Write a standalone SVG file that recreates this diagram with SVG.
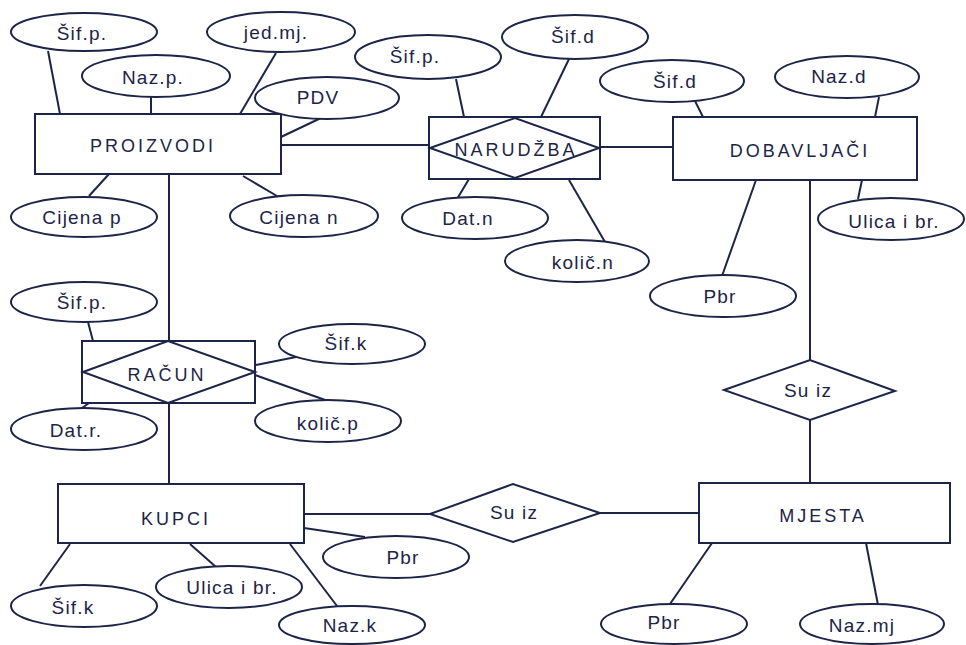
<svg xmlns="http://www.w3.org/2000/svg" width="966" height="645" viewBox="0 0 966 645">
<style>
.s{fill:#fff;stroke:#1c2448;stroke-width:2}
.c{stroke:#1c2448;stroke-width:2;fill:none}
text{font-family:"Liberation Sans","DejaVu Sans",sans-serif;font-size:19px;letter-spacing:1.2px;fill:#1c2448;text-anchor:middle;dominant-baseline:central}
.e{letter-spacing:3px;font-size:18px}
</style>
<rect width="966" height="645" fill="#fff"/>
<g id="connectors">
<line class="c" x1="48" y1="51" x2="60" y2="114"/>
<line class="c" x1="151" y1="97" x2="151" y2="114"/>
<line class="c" x1="276" y1="53" x2="240" y2="114"/>
<line class="c" x1="323" y1="117" x2="281" y2="137"/>
<line class="c" x1="281" y1="145" x2="429" y2="145"/>
<line class="c" x1="109" y1="174" x2="89" y2="196"/>
<line class="c" x1="243" y1="176" x2="277" y2="196"/>
<line class="c" x1="169" y1="174" x2="169" y2="341"/>
<line class="c" x1="456" y1="79" x2="464" y2="117"/>
<line class="c" x1="569" y1="59" x2="541" y2="117"/>
<line class="c" x1="600" y1="147" x2="673" y2="147"/>
<line class="c" x1="695" y1="101" x2="703" y2="117"/>
<line class="c" x1="879" y1="97" x2="875" y2="117"/>
<line class="c" x1="469" y1="179" x2="457" y2="199"/>
<line class="c" x1="569" y1="180" x2="605" y2="242"/>
<line class="c" x1="862" y1="180" x2="858" y2="199"/>
<line class="c" x1="756" y1="180" x2="722" y2="276"/>
<line class="c" x1="810" y1="180" x2="810" y2="360"/>
<line class="c" x1="810" y1="420" x2="810" y2="483"/>
<line class="c" x1="88" y1="322" x2="93" y2="341"/>
<line class="c" x1="256" y1="365" x2="306" y2="355"/>
<line class="c" x1="255" y1="375" x2="328" y2="401"/>
<line class="c" x1="89" y1="403" x2="68" y2="418"/>
<line class="c" x1="169" y1="403" x2="169" y2="484"/>
<line class="c" x1="304" y1="514" x2="430" y2="514"/>
<line class="c" x1="600" y1="513" x2="699" y2="513"/>
<line class="c" x1="304" y1="528" x2="365" y2="537"/>
<line class="c" x1="70" y1="544" x2="40" y2="586"/>
<line class="c" x1="190" y1="544" x2="216" y2="567"/>
<line class="c" x1="290" y1="544" x2="337" y2="606"/>
<line class="c" x1="712" y1="543" x2="670" y2="604"/>
<line class="c" x1="866" y1="543" x2="878" y2="605"/>
</g>
<g id="proizvodi"><rect class="s" x="35" y="114" width="246" height="60"/><text class="e" x="153" y="146">PROIZVODI</text></g>
<g id="narudzba"><rect class="s" x="429" y="117" width="171" height="62"/><polygon class="s" points="430,148 515,118 599,148 515,178"/><text class="e" x="516" y="150">NARUDŽBA</text></g>
<g id="dobavljaci"><rect class="s" x="673" y="117" width="244" height="63"/><text class="e" x="800" y="151">DOBAVLJAČI</text></g>
<g id="racun"><rect class="s" x="82" y="341" width="173" height="62"/><polygon class="s" points="83,372 168,341 255,372 168,403"/><text class="e" x="167" y="375">RAČUN</text></g>
<g id="kupci"><rect class="s" x="58" y="484" width="246" height="59"/><text class="e" x="176" y="519">KUPCI</text></g>
<g id="mjesta"><rect class="s" x="699" y="483" width="251" height="60"/><text class="e" x="823" y="516">MJESTA</text></g>
<g id="suiz1"><polygon class="s" points="724,390 810,360 895,391 810,420"/><text x="808" y="390">Su iz</text></g>
<g id="suiz2"><polygon class="s" points="430,514 513,484 600,513 513,542"/><text x="514" y="512">Su iz</text></g>
<g id="a-sifp1"><ellipse class="s" cx="84" cy="32" rx="73" ry="19"/><text x="82" y="33">Šif.p.</text></g>
<g id="a-jedmj"><ellipse class="s" cx="281" cy="32" rx="74" ry="20"/><text x="276" y="32">jed.mj.</text></g>
<g id="a-nazp"><ellipse class="s" cx="156" cy="76" rx="74" ry="21"/><text x="153" y="77">Naz.p.</text></g>
<g id="a-pdv"><ellipse class="s" cx="327" cy="98" rx="72" ry="21"/><text x="318" y="97">PDV</text></g>
<g id="a-cijenap"><ellipse class="s" cx="84" cy="217" rx="73" ry="20"/><text x="82" y="217">Cijena p</text></g>
<g id="a-cijenan"><ellipse class="s" cx="304" cy="216" rx="74" ry="21"/><text x="299" y="217">Cijena n</text></g>
<g id="a-sifp2"><ellipse class="s" cx="428" cy="57" rx="73" ry="22"/><text x="415" y="56">Šif.p.</text></g>
<g id="a-sifd1"><ellipse class="s" cx="575" cy="37" rx="73" ry="22"/><text x="573" y="36">Šif.d</text></g>
<g id="a-sifd2"><ellipse class="s" cx="672" cy="81" rx="72" ry="21"/><text x="675" y="81">Šif.d</text></g>
<g id="a-nazd"><ellipse class="s" cx="847" cy="77" rx="72" ry="21"/><text x="839" y="76">Naz.d</text></g>
<g id="a-datn"><ellipse class="s" cx="475" cy="218" rx="73" ry="21"/><text x="468" y="218">Dat.n</text></g>
<g id="a-kolicn"><ellipse class="s" cx="577" cy="261" rx="72" ry="21"/><text x="583" y="262">količ.n</text></g>
<g id="a-ulica1"><ellipse class="s" cx="891" cy="219" rx="73" ry="21"/><text x="894" y="221">Ulica i br.</text></g>
<g id="a-pbr1"><ellipse class="s" cx="723" cy="296" rx="73" ry="21"/><text x="720" y="296">Pbr</text></g>
<g id="a-sifp3"><ellipse class="s" cx="84" cy="302" rx="73" ry="20"/><text x="82" y="302">Šif.p.</text></g>
<g id="a-sifk1"><ellipse class="s" cx="352" cy="344" rx="73" ry="20"/><text x="346" y="343">Šif.k</text></g>
<g id="a-kolicp"><ellipse class="s" cx="328" cy="421" rx="73" ry="21"/><text x="328" y="423">količ.p</text></g>
<g id="a-datr"><ellipse class="s" cx="84" cy="429" rx="73" ry="21"/><text x="76" y="430">Dat.r.</text></g>
<g id="a-pbr2"><ellipse class="s" cx="396" cy="557" rx="73" ry="21"/><text x="403" y="557">Pbr</text></g>
<g id="a-sifk2"><ellipse class="s" cx="84" cy="606" rx="73" ry="21"/><text x="73" y="607">Šif.k</text></g>
<g id="a-ulica2"><ellipse class="s" cx="229" cy="587" rx="73" ry="21"/><text x="232" y="587">Ulica i br.</text></g>
<g id="a-nazk"><ellipse class="s" cx="352" cy="625" rx="73" ry="19"/><text x="350" y="625">Naz.k</text></g>
<g id="a-pbr3"><ellipse class="s" cx="674" cy="624" rx="73" ry="20"/><text x="664" y="622">Pbr</text></g>
<g id="a-nazmj"><ellipse class="s" cx="872" cy="624" rx="72" ry="20"/><text x="862" y="625">Naz.mj</text></g>
</svg>
